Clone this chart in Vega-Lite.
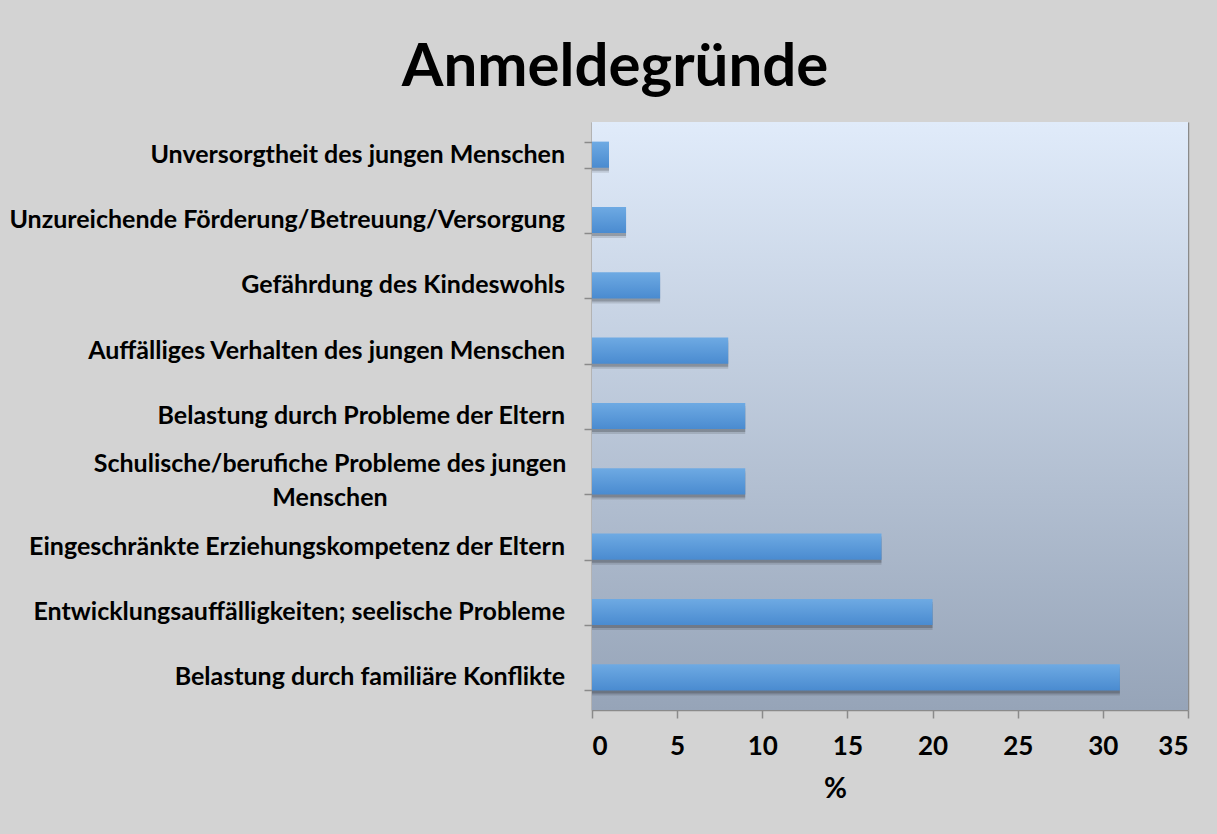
{
  "$schema": "https://vega.github.io/schema/vega-lite/v6.json",
  "width": 596,
  "height": 588,
  "autosize": {"type": "none"},
  "padding": {"left": 592, "top": 122, "right": 29, "bottom": 124},
  "background": "#d3d3d3",
  "title": {
    "text": "Anmeldegründe",
    "font": "Lato",
    "fontSize": 60,
    "fontWeight": "bold",
    "color": "#000000",
    "anchor": "middle",
    "frame": "bounds",
    "baseline": "alphabetic",
    "offset": 37,
    "dy": 61,
    "dx": 16
  },
  "data": {
    "values": [
      {"grund": "Unversorgtheit des jungen Menschen", "label": ["Unversorgtheit des jungen Menschen"], "prozent": 1},
      {"grund": "Unzureichende Förderung/Betreuung/Versorgung", "label": ["Unzureichende Förderung/Betreuung/Versorgung"], "prozent": 2},
      {"grund": "Gefährdung des Kindeswohls", "label": ["Gefährdung des Kindeswohls"], "prozent": 4},
      {"grund": "Auffälliges Verhalten des jungen Menschen", "label": ["Auffälliges Verhalten des jungen Menschen"], "prozent": 8},
      {"grund": "Belastung durch Probleme der Eltern", "label": ["Belastung durch Probleme der Eltern"], "prozent": 9},
      {"grund": "Schulische/berufiche Probleme des jungen Menschen", "label": ["Schulische/berufiche Probleme des jungen", "Menschen"], "prozent": 9},
      {"grund": "Eingeschränkte Erziehungskompetenz der Eltern", "label": ["Eingeschränkte Erziehungskompetenz der Eltern"], "prozent": 17},
      {"grund": "Entwicklungsauffälligkeiten; seelische Probleme", "label": ["Entwicklungsauffälligkeiten; seelische Probleme"], "prozent": 20},
      {"grund": "Belastung durch familiäre Konflikte", "label": ["Belastung durch familiäre Konflikte"], "prozent": 31}
    ]
  },
  "encoding": {
    "y": {
      "field": "grund",
      "type": "nominal",
      "sort": null,
      "scale": {"paddingInner": 0.6, "paddingOuter": 0.3},
      "axis": {
        "title": null,
        "labels": false,
        "tickBand": "extent",
        "tickSize": 8,
        "tickColor": "#8a8a8a",
        "tickWidth": 1.5,
        "domainColor": "#8a8a8a",
        "domainWidth": 1.5,
        "grid": false
      }
    }
  },
  "layer": [
    {
      "data": {"values": [{"a": 1}]},
      "mark": {
        "type": "rect",
        "fill": {
          "gradient": "linear", "x1": 0, "y1": 0, "x2": 0, "y2": 1,
          "stops": [
            {"offset": 0, "color": "#e0ebfa"},
            {"offset": 1, "color": "#96a4b8"}
          ]
        }
      },
      "encoding": {
        "x": {"datum": 0, "type": "quantitative"},
        "x2": {"datum": 35},
        "y": null
      }
    },
    {
      "mark": {"type": "bar", "color": "#000000", "opacity": 0.12, "yOffset": 5, "x2Offset": 5, "xOffset": 0},
      "encoding": {"x": {"field": "prozent", "type": "quantitative"}}
    },
    {
      "mark": {"type": "bar", "color": "#000000", "opacity": 0.2, "yOffset": 3, "x2Offset": 3},
      "encoding": {"x": {"field": "prozent", "type": "quantitative"}}
    },
    {
      "mark": {
        "type": "bar",
        "color": {
          "gradient": "linear", "x1": 0, "y1": 0, "x2": 0, "y2": 1,
          "stops": [
            {"offset": 0, "color": "#6eaae3"},
            {"offset": 1, "color": "#4a8bd0"}
          ]
        }
      },
      "encoding": {
        "x": {
          "field": "prozent",
          "type": "quantitative",
          "scale": {"domain": [0, 35], "nice": false},
          "axis": {
            "title": "%",
            "titleFont": "Lato",
            "titleFontSize": 28,
            "titleFontWeight": "bold",
            "titleColor": "#000000",
            "titleX": 243,
            "titlePadding": 16,
            "values": [0, 5, 10, 15, 20, 25, 30, 35],
            "labelFont": "Lato",
            "labelFontSize": 26,
            "labelFontWeight": "bold",
            "labelColor": "#000000",
            "labelPadding": 15,
            "tickSize": 8,
            "tickColor": "#8a8a8a",
            "tickWidth": 1.5,
            "domainColor": "#8a8a8a",
            "domainWidth": 1.5,
            "grid": true,
            "gridColor": "#8a8a8a",
            "gridWidth": 1.5
          }
        }
      }
    },
    {
      "transform": [{"filter": "length(datum.label) == 1"}],
      "mark": {"type": "text", "align": "right", "baseline": "middle", "dx": -27, "font": "Lato", "fontSize": 25, "fontWeight": "bold", "color": "#000000"},
      "encoding": {
        "x": {"datum": 0, "type": "quantitative"},
        "text": {"field": "label"}
      }
    },
    {
      "transform": [{"filter": "length(datum.label) > 1"}],
      "mark": {"type": "text", "align": "center", "baseline": "middle", "dx": -262, "dy": -17, "lineHeight": 34, "font": "Lato", "fontSize": 25, "fontWeight": "bold", "color": "#000000"},
      "encoding": {
        "x": {"datum": 0, "type": "quantitative"},
        "text": {"field": "label"}
      }
    }
  ],
  "config": {
    "view": {"stroke": null}
  }
}
